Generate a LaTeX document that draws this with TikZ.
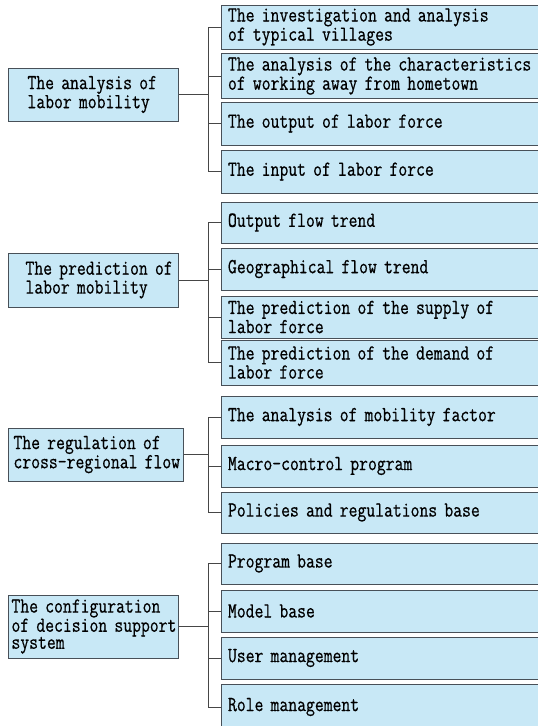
\documentclass[tikz,border=0pt]{standalone}
\usepackage{fontspec}
\setmonofont[FakeStretch=0.8,FakeBold=0.6]{Latin Modern Mono}
\usetikzlibrary{positioning}
\definecolor{boxfill}{RGB}{200,232,246}
\definecolor{boxline}{RGB}{72,80,88}
\definecolor{linkgray}{RGB}{70,70,70}

\begin{document}
\begin{tikzpicture}[x=1pt,y=-1pt,
  every node/.style={font=\ttfamily\fontsize{21.5}{17}\selectfont},
  lbox/.style={draw=boxline,fill=boxfill,line width=1pt,anchor=west,
    align=left,text width=168pt,inner xsep=1pt,minimum height=53pt},
  lead/.style={execute at begin node={\leftskip=#1}},
  rbox/.style={draw=boxline,fill=boxfill,line width=1pt,anchor=west,
    align=left,text width=318pt,inner xsep=6.5pt,minimum height=42pt},
  link/.style={draw=linkgray,line width=1pt}]
 \clip (0,0) rectangle (538,726);
 \fill[white] (0,0) rectangle (538,726);
 \coordinate (spine) at (208,0);
 % labor mobility analysis
 \node[lbox,lead=18pt] (ana) at (8,94.5)
   {The analysis of\\labor mobility};
 \node[rbox,minimum height=44pt] (inv) at (221,27)
   {The investigation and analysis\\of typical villages};
 \node[rbox] (chr) at (221,76)
   {The analysis of the characteristics\\of working away from hometown};
 \node[rbox,minimum height=43pt] (outp) at (221,123.5) {The output of labor force};
 \node[rbox,minimum height=43pt] (inp) at (221,171.5) {The input of labor force};
 % labor mobility prediction
 \node[lbox,lead=16pt,minimum height=54pt] (pre) at (8,280)
   {The prediction of\\labor mobility};
 \node[rbox,minimum height=41pt] (otr) at (221,222.5) {Output flow trend};
 \node[rbox] (geo) at (221,269) {Geographical flow trend};
 \node[rbox] (sup) at (221,317)
   {The prediction of the supply of\\labor force};
 \node[rbox,minimum height=45pt] (dem) at (221,362.5)
   {The prediction of the demand of\\labor force};
 % cross-regional regulation
 \node[lbox,text width=173pt,lead=4pt] (reg) at (8,454.5)
   {The regulation of\\cross-regional flow};
 \node[rbox] (fac) at (221,417) {The analysis of mobility factor};
 \node[rbox] (mac) at (221,466) {Macro-control program};
 \node[rbox,minimum height=41pt] (pol) at (221,512.5)
   {Policies and regulations base};
 % decision support system
 \node[lbox,lead=2pt,minimum height=63pt] (dss) at (8,626.5)
   {The configuration\\of decision support\\system};
 \node[rbox,minimum height=41pt] (prg) at (221,563.5) {Program base};
 \node[rbox] (mdl) at (221,611) {Model base};
 \node[rbox] (usr) at (221,658) {User management};
 \node[rbox,minimum height=45pt] (rol) at (221,707) {Role management};
 % brackets
 \draw[link] (ana.east) -- (ana.east -| spine);
 \draw[link] (inv.west) -- (inv.west -| spine) -- (inp.west -| spine) -- (inp.west);
 \draw[link] (pre.east) -- (pre.east -| spine);
 \draw[link] (otr.west) -- (otr.west -| spine) -- (dem.west -| spine) -- (dem.west);
 \draw[link] (reg.east) -- (reg.east -| spine);
 \draw[link] (fac.west) -- (fac.west -| spine) -- (pol.west -| spine) -- (pol.west);
 \draw[link] (dss.east) -- (dss.east -| spine);
 \draw[link] (prg.west) -- (prg.west -| spine) -- (rol.west -| spine) -- (rol.west);
 \foreach \c in {chr,outp,geo,sup,mac,mdl,usr}
   \draw[link] (\c.west) -- (\c.west -| spine);
\end{tikzpicture}
\end{document}
